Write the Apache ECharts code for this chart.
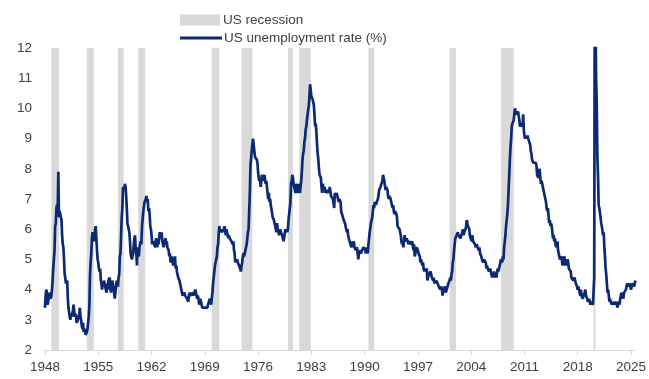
<!DOCTYPE html>
<html>
<head>
<meta charset="utf-8">
<script src="https://cdn.jsdelivr.net/npm/echarts@6/dist/echarts.min.js"></script>
<style>html,body{margin:0;padding:0;background:#fff}#c{width:649px;height:379px}</style>
</head>
<body>
<div id="c"></div>
<script>
const startYear = 1948;
const tickStep = 7;
const yTicks = [2,3,4,5,6,7,8,9,10,11,12];

const rates1940s = [
3.4,3.8,4.0,3.9,3.5,3.6,3.6,3.9,3.8,3.7,3.8,4.0,
4.3,4.7,5.0,5.3,6.1,6.2,6.7,6.8,6.6,7.9,6.4,6.6];
const rates1950s = [
6.5,6.4,6.3,5.8,5.5,5.4,5.0,4.5,4.4,4.2,4.2,4.3,
3.7,3.4,3.4,3.1,3.0,3.2,3.1,3.1,3.3,3.5,3.5,3.1,
3.2,3.1,2.9,2.9,3.0,3.0,3.2,3.4,3.1,3.0,2.8,2.7,
2.9,2.6,2.6,2.7,2.5,2.5,2.6,2.7,2.9,3.1,3.5,4.5,
4.9,5.2,5.7,5.9,5.9,5.6,5.8,6.0,6.1,5.7,5.3,5.0,
4.9,4.7,4.6,4.7,4.3,4.2,4.0,4.2,4.1,4.3,4.2,4.2,
4.0,3.9,4.2,4.0,4.3,4.3,4.4,4.1,3.9,3.9,4.3,4.2,
4.2,3.9,3.7,3.9,4.1,4.3,4.2,4.1,4.4,4.5,5.1,5.2,
5.8,6.4,6.7,7.4,7.4,7.3,7.5,7.4,7.1,6.7,6.2,6.2,
6.0,5.9,5.6,5.2,5.1,5.0,5.1,5.2,5.5,5.7,5.8,5.3];
const rates1960s = [
5.2,4.8,5.4,5.2,5.1,5.4,5.5,5.6,5.5,6.1,6.1,6.6,
6.6,6.9,6.9,7.0,7.1,6.9,7.0,6.6,6.7,6.5,6.1,6.0,
5.8,5.5,5.6,5.6,5.5,5.5,5.4,5.7,5.6,5.4,5.7,5.5,
5.7,5.9,5.7,5.7,5.9,5.6,5.6,5.4,5.5,5.5,5.7,5.5,
5.6,5.4,5.4,5.3,5.1,5.2,4.9,5.0,5.1,5.1,4.8,5.0,
4.9,5.1,4.7,4.8,4.6,4.6,4.4,4.4,4.3,4.2,4.1,4.0,
4.0,3.8,3.8,3.8,3.9,3.8,3.8,3.8,3.7,3.7,3.6,3.8,
3.9,3.8,3.8,3.8,3.8,3.9,3.8,3.8,3.8,4.0,3.9,3.8,
3.7,3.8,3.7,3.5,3.5,3.7,3.7,3.5,3.4,3.4,3.4,3.4,
3.4,3.4,3.4,3.4,3.4,3.5,3.5,3.5,3.7,3.7,3.5,3.5];
const rates1970s = [
3.9,4.2,4.4,4.6,4.8,4.9,5.0,5.1,5.4,5.5,5.9,6.1,
5.9,5.9,6.0,5.9,5.9,5.9,6.0,6.1,6.0,5.8,6.0,6.0,
5.8,5.7,5.8,5.7,5.7,5.7,5.6,5.6,5.5,5.6,5.3,5.2,
4.9,5.0,4.9,5.0,4.9,4.9,4.8,4.8,4.8,4.6,4.8,4.9,
5.1,5.2,5.1,5.1,5.1,5.4,5.5,5.5,5.9,6.0,6.6,7.2,
8.1,8.1,8.6,8.8,9.0,8.8,8.6,8.4,8.4,8.4,8.3,8.2,
7.9,7.7,7.6,7.7,7.4,7.6,7.8,7.8,7.6,7.7,7.8,7.8,
7.5,7.6,7.4,7.2,7.0,7.2,6.9,7.0,6.8,6.8,6.8,6.4,
6.4,6.3,6.3,6.1,6.0,5.9,6.2,5.9,6.0,5.8,5.9,6.0,
5.9,5.9,5.8,5.8,5.6,5.7,5.7,6.0,5.9,6.0,5.9,6.0];
const rates1980s = [
6.3,6.3,6.3,6.9,7.5,7.6,7.8,7.7,7.5,7.5,7.5,7.2,
7.5,7.4,7.4,7.2,7.5,7.5,7.2,7.4,7.6,7.9,8.3,8.5,
8.6,8.9,9.0,9.3,9.4,9.6,9.8,9.8,10.1,10.4,10.8,10.8,
10.4,10.4,10.3,10.2,10.1,10.1,9.4,9.5,9.2,8.8,8.5,8.3,
8.0,7.8,7.8,7.7,7.4,7.2,7.5,7.5,7.3,7.4,7.2,7.3,
7.3,7.2,7.2,7.3,7.2,7.4,7.4,7.1,7.1,7.1,7.0,7.0,
6.7,7.2,7.2,7.1,7.2,7.2,7.0,6.9,7.0,7.0,6.9,6.6,
6.6,6.6,6.6,6.3,6.3,6.2,6.1,6.0,5.9,6.0,5.8,5.7,
5.7,5.7,5.7,5.4,5.6,5.4,5.4,5.6,5.4,5.4,5.3,5.3,
5.4,5.2,5.0,5.2,5.2,5.3,5.2,5.2,5.3,5.3,5.4,5.4];
const rates1990s = [
5.4,5.3,5.2,5.4,5.4,5.2,5.5,5.7,5.9,5.9,6.2,6.3,
6.4,6.6,6.8,6.7,6.9,6.9,6.8,6.9,6.9,7.0,7.0,7.3,
7.3,7.4,7.4,7.4,7.6,7.8,7.7,7.6,7.6,7.3,7.4,7.4,
7.3,7.1,7.0,7.1,7.1,7.0,6.9,6.8,6.7,6.8,6.6,6.5,
6.6,6.6,6.5,6.4,6.1,6.1,6.1,6.0,5.9,5.8,5.6,5.5,
5.6,5.4,5.4,5.8,5.6,5.6,5.7,5.7,5.6,5.5,5.6,5.6,
5.6,5.5,5.5,5.6,5.6,5.3,5.5,5.1,5.2,5.2,5.4,5.4,
5.3,5.2,5.2,5.1,4.9,5.0,4.9,4.8,4.9,4.7,4.6,4.7,
4.6,4.6,4.7,4.3,4.4,4.5,4.5,4.5,4.6,4.5,4.4,4.4,
4.3,4.4,4.2,4.3,4.2,4.3,4.3,4.2,4.2,4.1,4.1,4.0];
const rates2000s = [
4.0,4.1,4.0,3.8,4.0,4.0,4.0,4.1,3.9,3.9,3.9,3.9,
4.2,4.2,4.3,4.4,4.3,4.5,4.6,4.9,5.0,5.3,5.5,5.7,
5.7,5.7,5.7,5.9,5.8,5.8,5.8,5.7,5.7,5.7,5.9,6.0,
5.8,5.9,5.9,6.0,6.1,6.3,6.2,6.1,6.1,6.0,5.8,5.7,
5.7,5.6,5.8,5.6,5.6,5.6,5.5,5.4,5.4,5.5,5.4,5.4,
5.3,5.4,5.2,5.2,5.1,5.0,5.0,4.9,5.0,5.0,5.0,4.9,
4.7,4.8,4.7,4.7,4.6,4.6,4.7,4.7,4.5,4.4,4.5,4.4,
4.6,4.5,4.4,4.5,4.4,4.6,4.7,4.6,4.7,4.7,4.7,5.0,
5.0,4.9,5.1,5.0,5.4,5.6,5.8,6.1,6.1,6.5,6.8,7.3,
7.8,8.3,8.7,9.0,9.4,9.5,9.5,9.6,9.8,10.0,9.9,9.9];
const rates2010s = [
9.8,9.8,9.9,9.9,9.6,9.4,9.4,9.5,9.5,9.4,9.8,9.3,
9.1,9.0,9.0,9.1,9.0,9.1,9.0,9.0,9.0,8.8,8.6,8.5,
8.3,8.3,8.2,8.2,8.2,8.2,8.2,8.1,7.8,7.8,7.7,7.9,
8.0,7.7,7.5,7.6,7.5,7.5,7.3,7.2,7.2,7.2,6.9,6.7,
6.6,6.7,6.7,6.2,6.3,6.1,6.2,6.1,5.9,5.7,5.8,5.6,
5.7,5.5,5.4,5.4,5.6,5.3,5.2,5.1,5.0,5.0,5.1,5.0,
4.8,4.9,5.0,5.1,4.8,4.9,4.8,4.9,5.0,4.9,4.7,4.7,
4.7,4.6,4.4,4.4,4.4,4.3,4.3,4.4,4.3,4.2,4.2,4.1,
4.0,4.1,4.0,4.0,3.8,4.0,3.8,3.8,3.7,3.8,3.8,3.9,
4.0,3.8,3.8,3.7,3.6,3.6,3.7,3.6,3.5,3.6,3.6,3.6];
const rates2020s = [
3.5,3.5,4.4,14.8,13.2,11.0,10.2,8.4,7.8,6.8,6.7,6.7,
6.4,6.2,6.1,6.1,5.8,5.9,5.4,5.1,4.7,4.5,4.2,3.9,
4.0,3.8,3.6,3.7,3.6,3.6,3.5,3.6,3.5,3.6,3.6,3.5,
3.5,3.6,3.5,3.4,3.6,3.6,3.5,3.7,3.8,3.9,3.7,3.8,
3.7,3.9,3.9,3.9,4.0,4.1,4.2,4.2,4.1,4.1,4.2,4.1,
4.0,4.1,4.2,4.2,4.2,4.1,4.2,4.3];

const recessionStart = ['1948-11','1953-07','1957-08','1960-04','1969-12','1973-11','1979-12','1981-06','1990-07','2001-03','2007-12','2020-02'];
const recessionEnd   = ['1949-11','1954-06','1958-05','1961-03','1970-12','1975-04','1980-08','1982-12','1991-04','2002-01','2009-08','2020-05'];

const rates = [].concat(rates1940s, rates1950s, rates1960s, rates1970s, rates1980s, rates1990s, rates2000s, rates2010s, rates2020s);
const months = rates.map((_, i) => {
  const y = startYear + Math.floor(i / 12);
  const m = (i % 12) + 1;
  return y + '-' + (m < 10 ? '0' + m : m);
});
const showYear = (idx, val) => {
  const y = parseInt(val.slice(0, 4), 10);
  return val.slice(5) === '01' && (y - startYear) % tickStep === 0;
};

const textColor = '#404040';
const font = 'Liberation Sans, Arial, sans-serif';
const chart = echarts.init(document.getElementById('c'), null, {renderer: 'canvas'});
chart.setOption({
  animation: false,
  backgroundColor: '#ffffff',
  grid: {left: 45, right: 12, top: 48, bottom: 29, containLabel: false},
  legend: [
    {data: ['US recession'], left: 180, top: 13, icon: 'rect', itemWidth: 40, itemHeight: 11, itemGap: 5,
     padding: 0, textStyle: {color: textColor, fontSize: 13.5, fontFamily: font, padding: [0,0,0,-2]}},
    {data: ['US unemployment rate (%)'], left: 180, top: 31, icon: 'rect', itemWidth: 42, itemHeight: 3,
     padding: 0, textStyle: {color: textColor, fontSize: 13.5, fontFamily: font, padding: [0,0,0,-3]}}
  ],
  xAxis: {
    type: 'category',
    data: months,
    boundaryGap: false,
    axisLine: {lineStyle: {color: '#d9d9d9', width: 1}},
    axisTick: {interval: showYear, length: 5, lineStyle: {color: '#d9d9d9'}},
    axisLabel: {interval: showYear, formatter: v => v.slice(0, 4), color: textColor, fontSize: 13.5, fontFamily: font, margin: 10},
    splitLine: {show: false}
  },
  yAxis: {
    type: 'value',
    min: yTicks[0], max: yTicks[yTicks.length - 1], interval: 1,
    axisLine: {show: false}, axisTick: {show: false}, splitLine: {show: false},
    axisLabel: {color: textColor, fontSize: 13.5, fontFamily: font, margin: 13}
  },
  series: [
    {
      name: 'US recession', type: 'line', data: [], z: 1,
      itemStyle: {color: '#d9d9d9'},
      markArea: {
        silent: true,
        itemStyle: {color: '#d9d9d9'},
        data: recessionStart.map((s, i) => [{xAxis: s}, {xAxis: recessionEnd[i]}])
      }
    },
    {
      name: 'US unemployment rate (%)', type: 'line', data: rates, z: 3,
      showSymbol: false, symbol: 'none', clip: true,
      itemStyle: {color: '#0c2a73'},
      lineStyle: {color: '#0c2a73', width: 2.7}
    }
  ]
});
</script>
</body>
</html>
